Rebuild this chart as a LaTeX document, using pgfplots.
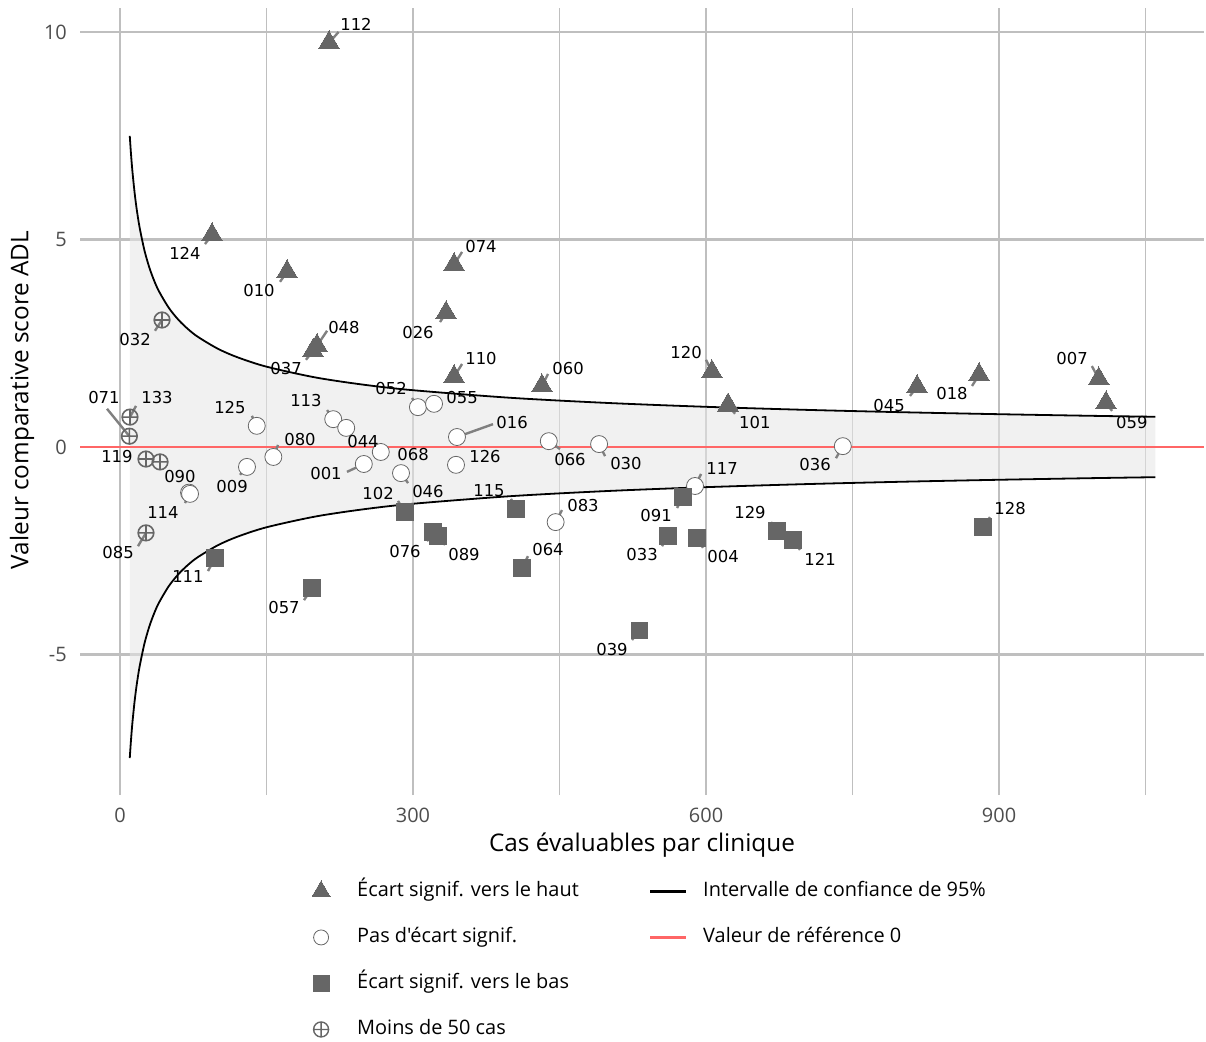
\documentclass[border=0pt]{standalone}
\usepackage{fontspec}
\setmainfont{Open Sans}[Ligatures=TeXOff]
\newfontfamily\labelfont{DejaVu Sans}
\usepackage{pgfplots}
\usepackage{pgfplotstable}
\pgfplotsset{compat=1.18}
\usepgfplotslibrary{fillbetween}
\definecolor{markgray}{HTML}{666666}
\definecolor{gridgray}{HTML}{BFBFBF}
\definecolor{refred}{HTML}{FF6666}
\definecolor{leadgray}{HTML}{808080}
\definecolor{tickgray}{HTML}{4D4D4D}
\definecolor{bandgray}{HTML}{E6E6E6}

\pgfplotstableread{
n up lo
10 7.495 -7.495
11 7.146 -7.146
12 6.842 -6.842
13 6.573 -6.573
15 6.119 -6.119
17 5.748 -5.748
20 5.300 -5.300
25 4.740 -4.740
30 4.327 -4.327
35 4.006 -4.006
40 3.747 -3.747
50 3.352 -3.352
60 3.060 -3.060
70 2.833 -2.833
80 2.650 -2.650
100 2.370 -2.370
120 2.164 -2.164
150 1.935 -1.935
200 1.676 -1.676
250 1.499 -1.499
300 1.368 -1.368
400 1.185 -1.185
500 1.060 -1.060
600 0.968 -0.968
700 0.896 -0.896
800 0.838 -0.838
900 0.790 -0.790
1000 0.749 -0.749
1060 0.728 -0.728
}\funnel

\pgfplotstableread{
x y
214.0 9.74
94.2 5.11
171.0 4.22
201.7 2.44
197.6 2.32
342.0 4.39
333.8 3.23
342.0 1.69
432.0 1.47
606.0 1.81
622.5 1.01
816.0 1.45
879.5 1.74
1002.0 1.64
1009.5 1.06
}\haut

\pgfplotstableread{
x y
140.0 0.51
157.0 -0.24
130.0 -0.48
70.7 -1.10
71.7 -1.13
218.3 0.67
231.6 0.46
267.0 -0.12
249.6 -0.41
287.7 -0.63
305.0 0.96
321.5 1.04
345.0 0.24
344.0 -0.43
439.0 0.14
490.5 0.07
446.0 -1.81
588.7 -0.94
740.0 0.02
}\pas

\pgfplotstableread{
x y
97.3 -2.67
196.6 -3.40
291.8 -1.57
320.5 -2.05
325.6 -2.14
405.4 -1.49
411.6 -2.92
532.0 -4.42
561.0 -2.15
590.6 -2.20
576.5 -1.20
672.7 -2.02
689.0 -2.24
883.6 -1.93
}\bas

\pgfplotstableread{
x y
10.2 0.72
9.6 0.26
26.6 -0.29
41.0 -0.36
26.6 -2.07
43.0 3.06
}\moins

\pgfplotstableread{
x y ex ey
214.0 9.74 223.8 10.00
94.2 5.11 87.0 4.89
171.0 4.22 163.8 3.98
201.7 2.44 212.0 2.80
197.6 2.32 190.4 2.10
342.0 4.39 350.2 4.70
333.8 3.23 327.6 3.01
342.0 1.69 350.2 2.00
432.0 1.47 438.2 1.76
606.0 1.81 600.0 2.10
622.5 1.01 629.7 0.80
816.0 1.45 808.8 1.23
879.5 1.74 872.3 1.47
1002.0 1.64 995.0 1.95
1009.5 1.06 1015.7 0.87
140.0 0.51 135.0 0.75
157.0 -0.24 161.8 0.05
130.0 -0.48 122.9 -0.67
71.7 -1.13 66.5 -1.35
218.3 0.67 212.0 0.89
249.6 -0.41 232.4 -0.60
267.0 -0.12 275.0 -0.15
287.7 -0.63 294.9 -0.87
305.0 0.96 299.0 1.18
345.0 0.24 381.9 0.55
439.0 0.14 450.5 -0.05
490.5 0.07 496.6 -0.22
446.0 -1.81 452.5 -1.52
588.7 -0.94 594.9 -0.65
740.0 0.02 733.0 -0.27
10.2 0.72 16.4 0.99
9.6 0.26 -13.3 0.92
26.6 -2.07 18.4 -2.39
43.0 3.06 35.8 2.80
97.3 -2.67 90.1 -2.99
196.6 -3.40 188.4 -3.69
291.8 -1.57 284.6 -1.30
320.5 -2.05 314.3 -2.27
325.6 -2.14 332.8 -2.36
405.4 -1.49 400.3 -1.25
411.6 -2.92 417.7 -2.63
532.0 -4.42 524.2 -4.65
561.0 -2.15 554.9 -2.39
590.6 -2.20 596.9 -2.43
576.5 -1.20 570.3 -1.47
672.7 -2.02 666.5 -1.81
689.0 -2.24 696.2 -2.48
883.6 -1.93 890.7 -1.69
}\leaders

\pgfplotstableread{
lx ly lab
241.6 10.19 112
66.5 4.67 124
142.3 3.78 010
229.3 2.89 048
170.0 1.90 037
369.6 4.84 074
305.1 2.77 026
369.6 2.14 110
458.7 1.90 060
579.5 2.27 120
650.0 0.60 101
787.4 0.99 045
851.8 1.30 018
974.7 2.12 007
1036.0 0.60 059
112.6 0.94 125
184.3 0.19 080
114.7 -0.96 009
61.4 -0.72 090
44.0 -1.59 114
190.4 1.11 113
248.8 0.14 044
210.9 -0.63 001
300.0 -0.17 068
315.3 -1.08 046
277.5 1.40 052
350.2 1.20 055
401.4 0.58 016
373.7 -0.22 126
460.7 -0.31 066
518.0 -0.41 030
474.0 -1.40 083
616.4 -0.51 117
711.6 -0.43 036
37.9 1.18 133
-16.4 1.18 071
-3.1 -0.22 119
-2.0 -2.55 085
15.4 2.58 032
69.6 -3.13 111
167.9 -3.88 057
264.2 -1.11 102
291.8 -2.51 076
352.2 -2.60 089
377.8 -1.06 115
438.2 -2.48 064
503.7 -4.89 039
534.5 -2.58 033
617.4 -2.65 004
548.8 -1.66 091
645.0 -1.59 129
716.7 -2.70 121
911.2 -1.49 128
}\labels

\pgfplotsset{
  markleg/.style={legend image code/.code={\draw[##1] plot coordinates {(18bp,0bp)};}},
  lineleg/.style={legend image code/.code={\draw[##1] (0bp,0bp) -- (36bp,0bp);}},
}

\begin{document}
\begin{tikzpicture}
\begin{axis}[
  name=ax,
  scale only axis, width=1124bp, height=787bp,
  xmin=-40.95, xmax=1109.8, ymin=-8.386, ymax=10.578,
  clip=false,
  xtick={0,300,600,900}, xticklabels={0,300,600,900},
  minor xtick={150,450,750,1050},
  ytick={-5,0,5,10}, yticklabels={-5,0,5,10},
  xmajorgrids, xminorgrids, ymajorgrids,
  major grid style={gridgray, line width=2.4bp},
  minor grid style={gridgray, line width=1.6bp},
  tick style={draw=none}, axis line style={draw=none},
  major tick length=0pt, minor tick length=0pt,
  ticklabel style={font=\fontsize{20}{24}\selectfont, text=tickgray, inner sep=0pt},
  xticklabel style={anchor=north, yshift=-13bp},
  yticklabel style={anchor=east, xshift=-13bp},
  xlabel={Cas évaluables par clinique},
  ylabel={Valeur comparative score ADL},
  label style={font=\fontsize{24.4}{28}\selectfont, text=black, inner sep=0pt},
  xlabel style={at={(axis description cs:0.5,-0.0635)}, anchor=center},
  ylabel style={at={(axis description cs:-0.0516,0.502)}, anchor=center},
  legend columns=2,
  legend cell align=left,
  legend style={at={(axis description cs:0.2064,-0.1092)}, anchor=north west,
    draw=none, fill=none, inner sep=0pt, outer sep=0pt,
    font=\fontsize{20}{24}\selectfont, row sep=26bp,
    nodes={inner sep=0pt, text height=15bp, text depth=5bp},
    /tikz/column 1/.style={column sep=27bp},
    /tikz/column 2/.style={column sep=70bp},
    /tikz/column 3/.style={column sep=16bp}},
]
% funnel band
\addplot[name path=up, draw=none, forget plot] table[x=n, y=up] {\funnel};
\addplot[name path=lo, draw=none, forget plot] table[x=n, y=lo] {\funnel};
\addplot[fill=bandgray, fill opacity=0.55, draw=none, forget plot] fill between[of=up and lo];
\addplot[black, line width=1.8bp, smooth, forget plot] table[x=n, y=up] {\funnel};
\addplot[black, line width=1.8bp, smooth, forget plot] table[x=n, y=lo] {\funnel};
% reference line
\addplot[refred, line width=2.8bp, forget plot] coordinates {(-40.95,0) (1109.8,0)};
% leaders
\addplot[leadgray, line width=2.4bp, forget plot,
  quiver={u=\thisrow{ex}-\thisrow{x}, v=\thisrow{ey}-\thisrow{y}}] table[x=x, y=y] {\leaders};
% points
\addplot[only marks, mark=triangle*, mark size=12bp, mark options={fill=markgray, draw=markgray, line width=0pt}, forget plot] table {\haut};
\addplot[only marks, mark=*, mark size=8.5bp, mark options={fill=white, draw=markgray, line width=0.8bp}, forget plot] table {\pas};
\addplot[only marks, mark=square*, mark size=8.3bp, mark options={fill=markgray, draw=markgray, line width=0pt}, forget plot] table {\bas};
\addplot[only marks, mark=oplus, mark size=7.8bp, mark options={draw=markgray, line width=1.6bp, fill=none}, forget plot] table {\moins};
% labels
\addplot[only marks, mark=none, forget plot, nodes near coords, point meta=explicit symbolic,
  every node near coord/.append style={anchor=center, inner sep=0pt, text=black, font=\labelfont\fontsize{16.5}{19}\selectfont}]
  table[x=lx, y=ly, meta=lab] {\labels};
% legend
\addlegendimage{markleg, only marks, mark=triangle*, mark size=10.5bp, mark options={fill=markgray, draw=markgray, line width=0pt}}
\addlegendentry{Écart signif. vers le haut}
\addlegendimage{lineleg, black, line width=2.4bp}
\addlegendentry{Intervalle de confiance de 95\%}
\addlegendimage{markleg, only marks, mark=*, mark size=7.5bp, mark options={fill=white, draw=markgray, line width=0.8bp}}
\addlegendentry{Pas d'écart signif.}
\addlegendimage{lineleg, refred, line width=2.4bp}
\addlegendentry{Valeur de référence 0}
\addlegendimage{markleg, only marks, mark=square*, mark size=8bp, mark options={fill=markgray, draw=markgray, line width=0pt}}
\addlegendentry{Écart signif. vers le bas}
\addlegendimage{empty legend}
\addlegendentry{}
\addlegendimage{markleg, only marks, mark=oplus, mark size=7.5bp, mark options={draw=markgray, line width=1.4bp, fill=none}}
\addlegendentry{Moins de 50 cas}
\end{axis}
\pgfresetboundingbox
\path[use as bounding box] ([xshift=-80bp,yshift=-246bp]ax.south west) rectangle ([xshift=2bp,yshift=8bp]ax.north east);
\end{tikzpicture}
\end{document}
